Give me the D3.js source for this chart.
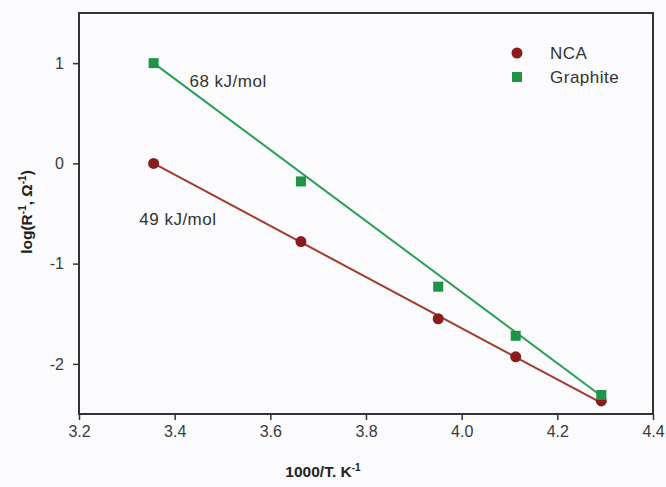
<!DOCTYPE html>
<html><head><meta charset="utf-8">
<script src="https://cdn.jsdelivr.net/npm/d3@7"></script>
<style>body{margin:0;background:#fbfbfd;}svg{display:block;}</style>
</head><body>
<svg id="chart" width="666" height="487"></svg>
<script>
const xTicks = [3.2, 3.4, 3.6, 3.8, 4.0, 4.2, 4.4];
const yTicks = [-2, -1, 0, 1];
const invT = [3.356, 3.664, 3.951, 4.113, 4.292];
const ncaValues = [0.0, -0.78, -1.55, -1.93, -2.37];
const graphiteValues = [1.0, -0.18, -1.23, -1.72, -2.31];
const ncaFit = [[3.356, 0.0], [4.292, -2.39]];
const graphiteFit = [[3.356, 1.0], [4.292, -2.32]];
const seriesNames = ["NCA", "Graphite"];
const annotations = [{text: "68 kJ/mol", x: 3.431, y: 0.82}, {text: "49 kJ/mol", x: 3.326, y: -0.56}];

const svg = d3.select("#chart");
const m = {left: 79, right: 653, top: 13, bottom: 414};
const x = d3.scaleLinear().domain([3.2, 4.4]).range([m.left, m.right]);
const y = d3.scaleLinear().domain([-2.5, 1.5]).range([m.bottom, m.top]);
const font = "Arial, 'Liberation Sans', sans-serif";
const red = "#8c1c1c", green = "#1e9448";
const redLine = "#a33a2c", greenLine = "#2a9f55";

svg.append("rect").attr("width", 666).attr("height", 487).attr("fill", "#fbfbfd");

const xa = svg.append("g").attr("transform", `translate(0,${m.bottom})`)
  .call(d3.axisBottom(x).tickValues(xTicks).tickFormat(d3.format(".1f")).tickSize(6).tickSizeOuter(0));
const ya = svg.append("g").attr("transform", `translate(${m.left},0)`)
  .call(d3.axisLeft(y).tickValues(yTicks).tickFormat(d3.format("d")).tickSize(6).tickSizeOuter(0));
[xa, ya].forEach(g => {
  g.select(".domain").remove();
  g.selectAll("line").attr("stroke", "#333").attr("stroke-width", 1.5);
  g.selectAll("text").attr("fill", "#3a3a3a").style("font-family", font).style("font-size", "16px");
});
xa.selectAll("text").attr("y", 12).attr("dy", "0.71em");
ya.selectAll("text").attr("x", -15).text(d => d < 0 ? "-" + Math.abs(d) : d);

svg.append("rect").attr("x", m.left).attr("y", m.top)
  .attr("width", m.right - m.left).attr("height", m.bottom - m.top)
  .attr("fill", "none").attr("stroke", "#333").attr("stroke-width", 2);

const line = d3.line().x(d => x(d[0])).y(d => y(d[1]));
svg.append("path").datum(ncaFit).attr("d", line).attr("stroke", redLine).attr("stroke-width", 2).attr("fill", "none");
svg.append("path").datum(graphiteFit).attr("d", line).attr("stroke", greenLine).attr("stroke-width", 2).attr("fill", "none");

svg.append("g").selectAll("circle").data(invT.map((t, i) => [t, ncaValues[i]])).join("circle")
  .attr("cx", d => x(d[0])).attr("cy", d => y(d[1])).attr("r", 5.5).attr("fill", red);
svg.append("g").selectAll("rect").data(invT.map((t, i) => [t, graphiteValues[i]])).join("rect")
  .attr("x", d => x(d[0]) - 5).attr("y", d => y(d[1]) - 5).attr("width", 10).attr("height", 10).attr("fill", green);

svg.selectAll(".ann").data(annotations).join("text").attr("class", "ann")
  .attr("x", d => x(d.x)).attr("y", d => y(d.y)).attr("dy", "0.35em")
  .attr("fill", "#333").style("font-family", font).style("font-size", "17px").style("letter-spacing", "0.5px").text(d => d.text);

// legend
const lg = svg.append("g");
lg.append("circle").attr("cx", 517).attr("cy", 53).attr("r", 5.5).attr("fill", red);
lg.append("rect").attr("x", 512).attr("y", 72).attr("width", 10).attr("height", 10).attr("fill", green);
lg.selectAll("text").data(seriesNames).join("text")
  .attr("x", 550).attr("y", (d, i) => 53 + i * 24).attr("dy", "0.35em")
  .attr("fill", "#333").style("font-family", font).style("font-size", "17px").style("letter-spacing", "0.5px").text(d => d);

svg.append("text").attr("x", 323).attr("y", 477).attr("text-anchor", "middle")
  .attr("fill", "#222").style("font-family", font).style("font-size", "15.5px").style("font-weight", "bold")
  .html('1000/T. K<tspan dy="-6" font-size="10px">-1</tspan>');
svg.append("text").attr("transform", "translate(32,212) rotate(-90)").attr("text-anchor", "middle")
  .attr("fill", "#222").style("font-family", font).style("font-size", "15.5px").style("font-weight", "bold")
  .html('log(R<tspan dy="-6" font-size="10px">-1</tspan><tspan dy="6">, Ω</tspan><tspan dy="-6" font-size="10px">-1</tspan><tspan dy="6">)</tspan>');
</script>
</body></html>
